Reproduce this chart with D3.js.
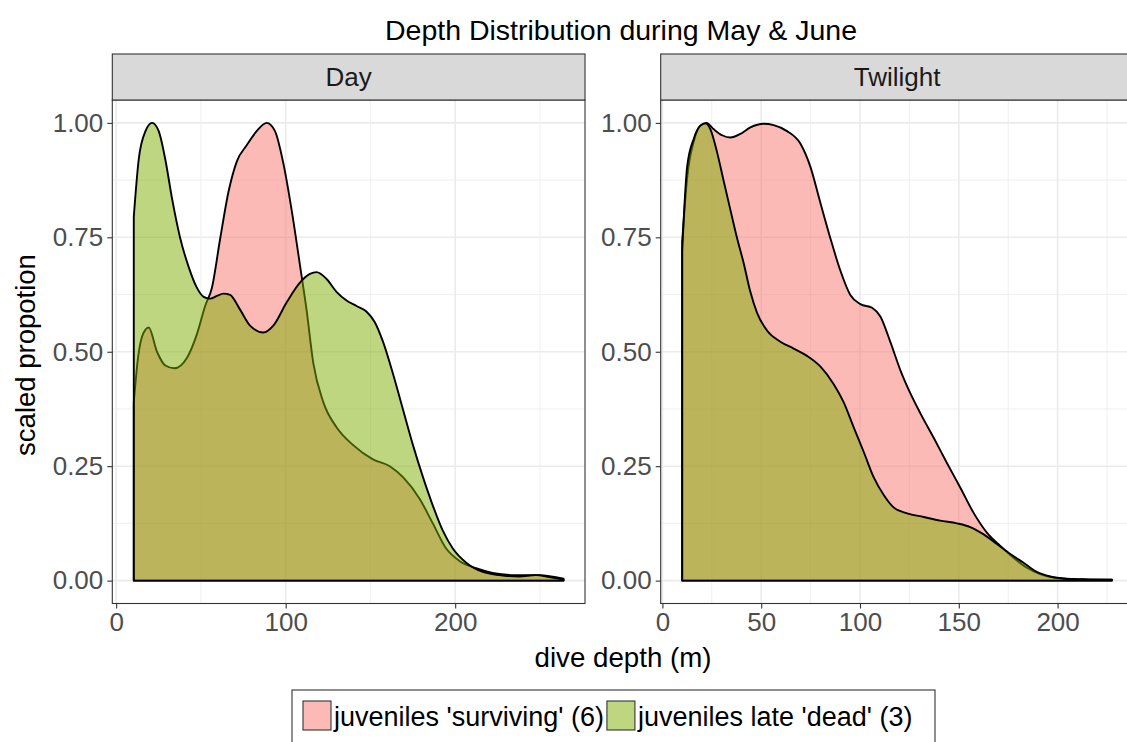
<!DOCTYPE html>
<html>
<head>
<meta charset="utf-8">
<script src="https://cdn.jsdelivr.net/npm/d3@7"></script>
<style>
  html, body { margin: 0; padding: 0; background: #fff; }
  svg { display: block; font-family: "Liberation Sans", Arial, Helvetica, sans-serif; }
</style>
</head>
<body>
<svg id="chart" width="1127" height="742"></svg>
<script>
// ---------------- data ----------------
const facets = ["Day", "Twilight"];
const seriesNames = ["juveniles 'surviving' (6)", "juveniles late 'dead' (3)"];
const seriesColors = ["#F8766D", "#7CAE00"];

// Day panel
const daySurvivingX = [10.4, 13, 16, 19.2, 24.1, 29, 34.3, 41.8, 47.6, 52.5, 56.5, 61.4, 66.3, 71.2, 77, 82.9, 88.8, 93.7, 98.6, 103.5, 108.4, 112.3, 116.3, 122.2, 130, 139.8, 151.5, 161.4, 169.2, 179, 186.8, 194.7, 202.5, 212.3, 222, 235.9, 249.6, 263.9];
const daySurvivingY = [0.39, 0.49, 0.54, 0.553, 0.50, 0.47, 0.464, 0.487, 0.538, 0.60, 0.64, 0.748, 0.85, 0.916, 0.951, 0.982, 1.0, 0.982, 0.912, 0.81, 0.69, 0.592, 0.475, 0.39, 0.335, 0.296, 0.265, 0.25, 0.226, 0.179, 0.125, 0.07, 0.043, 0.027, 0.017, 0.012, 0.012, 0.004];
const dayDeadX = [10.4, 13.3, 17.3, 21.2, 25.1, 29, 33, 37.8, 42.7, 47.6, 51.6, 55.5, 59.4, 63.3, 67.2, 73.1, 79, 86.8, 92.7, 100.6, 108.4, 114.3, 118.2, 124.1, 130, 135.9, 141.8, 147.6, 152.5, 157.4, 163.3, 169.2, 175.1, 181, 186.8, 192.7, 198.6, 206.5, 216.3, 226, 237.8, 247.6, 255.5, 263.9];
const dayDeadY = [0.795, 0.92, 0.982, 1.0, 0.982, 0.92, 0.834, 0.748, 0.686, 0.64, 0.62, 0.616, 0.622, 0.627, 0.624, 0.592, 0.557, 0.542, 0.557, 0.608, 0.651, 0.67, 0.674, 0.659, 0.631, 0.612, 0.6, 0.588, 0.565, 0.522, 0.452, 0.374, 0.296, 0.226, 0.164, 0.109, 0.07, 0.039, 0.019, 0.012, 0.009, 0.012, 0.008, 0.003];

// Twilight panel
const twiSurvivingX = [10, 12.5, 15.9, 19.2, 22.3, 26, 30.2, 34.4, 39.5, 44.5, 51.3, 56.3, 63.1, 69.8, 74.9, 79.9, 85, 90, 95.1, 100.2, 106.1, 110.3, 115.3, 120.4, 125.5, 130.5, 137.3, 144, 150.8, 157.5, 164.2, 171, 177.7, 184.5, 191.2, 201.3, 213.2, 227.5];
const twiSurvivingY = [0.74, 0.88, 0.96, 0.994, 1.0, 0.986, 0.973, 0.968, 0.976, 0.99, 0.998, 0.995, 0.982, 0.955, 0.904, 0.826, 0.748, 0.678, 0.624, 0.604, 0.596, 0.577, 0.522, 0.46, 0.409, 0.366, 0.312, 0.257, 0.203, 0.148, 0.105, 0.076, 0.05, 0.028, 0.014, 0.005, 0.003, 0.002];
const twiDeadX = [10, 12.5, 15.9, 19.2, 21.8, 24.3, 27.7, 31, 34.4, 37.8, 41.1, 44.5, 47.9, 53, 59.7, 66.4, 73.2, 79.9, 86.7, 91.7, 96.8, 101.9, 106.9, 112, 117, 123.8, 132.2, 140.6, 149.1, 155.8, 162.6, 169.3, 176.1, 182.8, 189.5, 196.3, 204.7, 216.5, 227.5];
const twiDeadY = [0.72, 0.904, 0.966, 0.994, 0.999, 0.986, 0.935, 0.873, 0.81, 0.748, 0.694, 0.631, 0.585, 0.546, 0.522, 0.507, 0.491, 0.468, 0.429, 0.39, 0.335, 0.281, 0.226, 0.187, 0.16, 0.147, 0.139, 0.131, 0.125, 0.117, 0.101, 0.08, 0.058, 0.039, 0.019, 0.009, 0.004, 0.002, 0.002];

// ticks
const yTicks = [0, 0.25, 0.5, 0.75, 1.0];
const yMinor = [0.125, 0.375, 0.625, 0.875];
const dayXTicks = [0, 100, 200];
const dayXMinor = [50, 150, 250];
const twiXTicks = [0, 50, 100, 150, 200];
const twiXMinor = [25, 75, 125, 175, 225];

// ---------------- layout ----------------
const svg = d3.select("#chart");
const panelTop = 100, panelBottom = 603.5, stripTop = 54;
const panelW = 472.7;
const panels = [
  { name: facets[0], left: 112.3, domain: [10.4 - 0.05 * 253.5, 263.9 + 0.05 * 253.5],
    ticks: dayXTicks, minor: dayXMinor,
    series: [[daySurvivingX, daySurvivingY], [dayDeadX, dayDeadY]] },
  { name: facets[1], left: 660.7, domain: [10 - 0.05 * 217.5, 227.5 + 0.05 * 217.5],
    ticks: twiXTicks, minor: twiXMinor,
    series: [[twiSurvivingX, twiSurvivingY], [twiDeadX, twiDeadY]] }
];
const y = d3.scaleLinear().domain([-0.05, 1.05]).range([panelBottom, panelTop]);

const gridCol = "#ebebeb", darkCol = "#333333", tickTextCol = "#4d4d4d";
const fmtY = d3.format(".2f");
const tickFont = 26;

panels.forEach(p => {
  const x = d3.scaleLinear().domain(p.domain).range([p.left, p.left + panelW]);
  const g = svg.append("g");
  g.append("rect").attr("x", p.left).attr("y", panelTop).attr("width", panelW)
    .attr("height", panelBottom - panelTop).attr("fill", "#fff");
  // minor grid
  p.minor.forEach(v => g.append("line").attr("x1", x(v)).attr("x2", x(v))
    .attr("y1", panelTop).attr("y2", panelBottom).attr("stroke", gridCol).attr("stroke-width", 0.8));
  yMinor.forEach(v => g.append("line").attr("x1", p.left).attr("x2", p.left + panelW)
    .attr("y1", y(v)).attr("y2", y(v)).attr("stroke", gridCol).attr("stroke-width", 0.8));
  // major grid
  p.ticks.forEach(v => g.append("line").attr("x1", x(v)).attr("x2", x(v))
    .attr("y1", panelTop).attr("y2", panelBottom).attr("stroke", gridCol).attr("stroke-width", 1.6));
  yTicks.forEach(v => g.append("line").attr("x1", p.left).attr("x2", p.left + panelW)
    .attr("y1", y(v)).attr("y2", y(v)).attr("stroke", gridCol).attr("stroke-width", 1.6));

  // densities
  p.series.forEach((s, i) => {
    const pts = s[0].map((xv, k) => [xv, s[1][k]]);
    const area = d3.area().x(d => x(d[0])).y0(y(0)).y1(d => y(d[1])).curve(d3.curveMonotoneX);
    g.append("path").attr("d", area(pts))
      .attr("fill", seriesColors[i]).attr("fill-opacity", 0.5)
      .attr("stroke", "#000").attr("stroke-width", 1.9).attr("stroke-linejoin", "round");
  });

  // panel border
  g.append("rect").attr("x", p.left).attr("y", panelTop).attr("width", panelW)
    .attr("height", panelBottom - panelTop).attr("fill", "none").attr("stroke", darkCol).attr("stroke-width", 1.1);

  // strip
  g.append("rect").attr("x", p.left).attr("y", stripTop).attr("width", panelW)
    .attr("height", panelTop - stripTop).attr("fill", "#d9d9d9").attr("stroke", darkCol).attr("stroke-width", 1.1);
  g.append("text").attr("x", p.left + panelW / 2).attr("y", 86).attr("text-anchor", "middle")
    .attr("font-size", 26).attr("fill", "#1a1a1a").text(p.name);

  // axes
  const xAxis = d3.axisBottom(x).tickValues(p.ticks).tickSize(5).tickPadding(4).tickFormat(d3.format("d"));
  const ax = g.append("g").attr("transform", `translate(0,${panelBottom})`).call(xAxis);
  ax.select(".domain").remove();
  ax.selectAll(".tick line").attr("stroke", darkCol).attr("stroke-width", 1.1);
  ax.selectAll(".tick text").attr("font-size", tickFont).attr("fill", tickTextCol)
    .attr("font-family", "Liberation Sans, Arial, sans-serif").attr("dy", "0.71em");

  const yAxis = d3.axisLeft(y).tickValues(yTicks).tickSize(5).tickPadding(4).tickFormat(fmtY);
  const ay = g.append("g").attr("transform", `translate(${p.left},0)`).call(yAxis);
  ay.select(".domain").remove();
  ay.selectAll(".tick line").attr("stroke", darkCol).attr("stroke-width", 1.1);
  ay.selectAll(".tick text").attr("font-size", tickFont).attr("fill", tickTextCol)
    .attr("font-family", "Liberation Sans, Arial, sans-serif");
});

// title
svg.append("text").attr("x", 621).attr("y", 40).attr("text-anchor", "middle")
  .attr("font-size", 28.5).attr("fill", "#000").text("Depth Distribution during May & June");
// axis titles
svg.append("text").attr("x", 623).attr("y", 667).attr("text-anchor", "middle")
  .attr("font-size", 27.7).attr("fill", "#000").text("dive depth (m)");
svg.append("text").attr("transform", `translate(35,355) rotate(-90)`)
  .attr("text-anchor", "middle").attr("font-size", 27.5).attr("fill", "#000").text("scaled propotion");

// legend
const lg = svg.append("g");
lg.append("rect").attr("x", 292).attr("y", 690).attr("width", 643).attr("height", 70)
  .attr("fill", "#fff").attr("stroke", "#333").attr("stroke-width", 1.1);
let cx = 303;
seriesNames.forEach((n, i) => {
  lg.append("rect").attr("x", cx).attr("y", 701).attr("width", 28).attr("height", 29)
    .attr("fill", seriesColors[i]).attr("fill-opacity", 0.5).attr("stroke", "#333").attr("stroke-width", 1.1);
  const t = lg.append("text").attr("x", cx + 31).attr("y", 726).attr("font-size", 27)
    .attr("fill", "#000").text(n);
  cx = cx + 31 + t.node().getComputedTextLength() + 3;
});
</script>
</body>
</html>
